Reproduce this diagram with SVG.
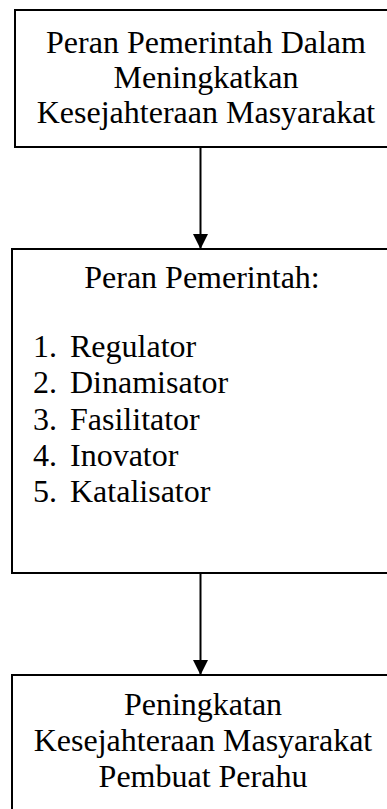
<svg xmlns="http://www.w3.org/2000/svg" width="387" height="809" viewBox="0 0 387 809">
<style>
.box{fill:#fff;stroke:#000;stroke-width:2}
.t{font-family:"Liberation Serif","Times New Roman",serif;font-size:32px;fill:#000}
.c{text-anchor:middle}
.line{stroke:#000;stroke-width:2;fill:none}
</style>
<defs>
<marker id="ah" markerWidth="15" markerHeight="15" viewBox="0 0 15 15" refX="15" refY="7.5" orient="auto" markerUnits="userSpaceOnUse">
<path d="M0,0 L15,7.5 L0,15 Z" fill="#000"/>
</marker>
</defs>
<g id="node1">
<rect class="box" x="15" y="10" width="400" height="137"/>
<text class="t c" x="206" y="53">Peran Pemerintah Dalam</text>
<text class="t c" x="206" y="88">Meningkatkan</text>
<text class="t c" x="206" y="123">Kesejahteraan Masyarakat</text>
</g>
<g id="node2">
<rect class="box" x="12" y="249" width="400" height="324"/>
<text class="t c" x="202" y="288">Peran Pemerintah:</text>
<text class="t" x="33" y="357">1.</text><text class="t" x="70" y="357">Regulator</text>
<text class="t" x="33" y="393">2.</text><text class="t" x="70" y="393">Dinamisator</text>
<text class="t" x="33" y="430">3.</text><text class="t" x="70" y="430">Fasilitator</text>
<text class="t" x="33" y="466">4.</text><text class="t" x="70" y="466">Inovator</text>
<text class="t" x="33" y="502">5.</text><text class="t" x="70" y="502">Katalisator</text>
</g>
<g id="node3">
<rect class="box" x="12" y="675" width="400" height="160"/>
<text class="t c" x="203" y="715">Peningkatan</text>
<text class="t c" x="203" y="751">Kesejahteraan Masyarakat</text>
<text class="t c" x="203" y="787">Pembuat Perahu</text>
</g>
<g id="connectors">
<line class="line" x1="200.5" y1="147" x2="200.5" y2="249" marker-end="url(#ah)"/>
<line class="line" x1="200.5" y1="573" x2="200.5" y2="675" marker-end="url(#ah)"/>
</g>
</svg>
